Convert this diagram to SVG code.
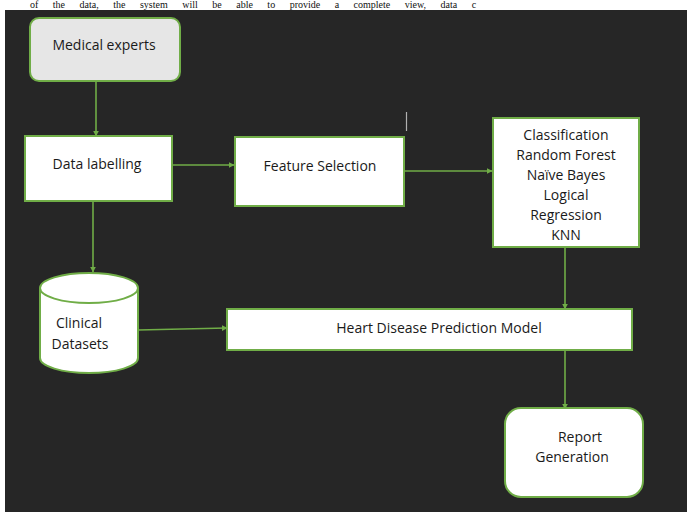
<svg xmlns="http://www.w3.org/2000/svg" width="687" height="512" viewBox="0 0 687 512">
<defs>
<style>
.box{fill:#ffffff;stroke:#70ad47;stroke-width:2}
.grey{fill:#e6e6e6;stroke:#70ad47;stroke-width:2}
.t{font-family:"Open Sans","Liberation Sans",sans-serif;font-size:14px;fill:#1a1a1a;text-anchor:middle}
.c{stroke:#70ad47;stroke-width:1.6;fill:none;marker-end:url(#ah)}
</style>
<marker id="ah" viewBox="0 0 10 10" refX="9" refY="5" markerWidth="6" markerHeight="6" orient="auto" markerUnits="userSpaceOnUse">
<path d="M0,0 L10,5 L0,10 z" fill="#70ad47"/>
</marker>
</defs>
<rect x="0" y="0" width="687" height="512" fill="#ffffff"/>
<text x="30" y="8" font-family="Liberation Serif,serif" font-size="10px" fill="#111" word-spacing="12">of the data, the system will be able to provide a complete view, data c</text>
<rect x="5" y="10" width="682" height="502" fill="#262626"/>
<line x1="406.5" y1="112" x2="406.5" y2="131" stroke="#b0b0b0" stroke-width="1.2"/>
<g id="connectors">
<line class="c" x1="96" y1="82" x2="96" y2="136"/>
<line class="c" x1="172" y1="165" x2="234" y2="165"/>
<line class="c" x1="404" y1="171" x2="492" y2="171"/>
<line class="c" x1="93" y1="202" x2="93" y2="272"/>
<line class="c" x1="138" y1="330" x2="227" y2="328"/>
<line class="c" x1="565" y1="248" x2="565" y2="309"/>
<line class="c" x1="565" y1="351" x2="565" y2="409"/>
</g>
<g id="medical-experts">
<rect class="grey" x="30" y="18" width="150" height="63" rx="9"/>
<text class="t" x="104" y="50">Medical experts</text>
</g>
<g id="data-labelling">
<rect class="box" x="25" y="136" width="147" height="65"/>
<text class="t" x="97" y="169">Data labelling</text>
</g>
<g id="feature-selection">
<rect class="box" x="235" y="137" width="169" height="69"/>
<text class="t" x="320" y="171">Feature Selection</text>
</g>
<g id="classification">
<rect class="box" x="493" y="118" width="146" height="129"/>
<text class="t" x="566" y="140">Classification</text>
<text class="t" x="566" y="160">Random Forest</text>
<text class="t" x="566" y="180">Naïve Bayes</text>
<text class="t" x="566" y="200">Logical</text>
<text class="t" x="566" y="220">Regression</text>
<text class="t" x="566" y="240">KNN</text>
</g>
<g id="clinical-datasets">
<path class="box" d="M40,288 A49,15 0 0 1 138,288 L138,358 A49,15 0 0 1 40,358 Z"/>
<path d="M40,288 A49,15 0 0 0 138,288" fill="none" stroke="#70ad47" stroke-width="2"/>
<text class="t" x="79" y="328">Clinical</text>
<text class="t" x="80" y="349">Datasets</text>
</g>
<g id="heart-disease-model">
<rect class="box" x="227" y="309" width="405" height="41"/>
<text class="t" x="439" y="333">Heart Disease Prediction Model</text>
</g>
<g id="report-generation">
<rect class="box" x="505" y="408" width="138" height="89" rx="16"/>
<text class="t" x="580" y="442">Report</text>
<text class="t" x="572" y="462">Generation</text>
</g>
</svg>
